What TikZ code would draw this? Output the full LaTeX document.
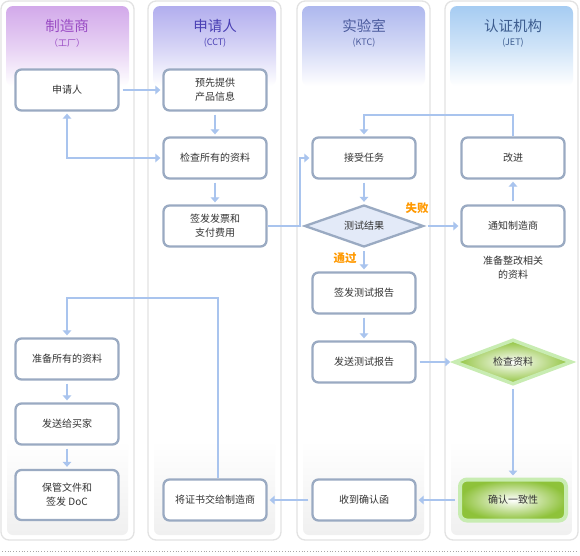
\documentclass[tikz,border=0pt]{standalone}
\usepackage{fontspec}
\setmainfont{Noto Sans CJK SC}
\usetikzlibrary{shapes.geometric,arrows.meta,calc}
\definecolor{boxb}{HTML}{9AAAC2}
\definecolor{arrc}{HTML}{A9C4EE}
\definecolor{txt}{HTML}{333333}
\definecolor{laneb}{HTML}{E2E2E2}
\definecolor{hA}{HTML}{D2A9EA}
\definecolor{hB}{HTML}{B2AEEE}
\definecolor{hC}{HTML}{AEB8EE}
\definecolor{hD}{HTML}{A6CCF2}
\definecolor{tA}{HTML}{9A4CC4}
\definecolor{tB}{HTML}{4A40B4}
\definecolor{tC}{HTML}{4A5A9C}
\definecolor{tD}{HTML}{3C5C8E}
\definecolor{orng}{HTML}{FF9900}
\definecolor{dfill}{HTML}{E3EAF8}
\definecolor{gbord}{HTML}{C8ECB2}
\definecolor{gdeep}{HTML}{8EC23A}
\tikzset{
  lane/.style={draw=laneb, line width=1.3pt, rounded corners=8pt, fill=white},
  hdr/.style={rounded corners=7pt},
  box/.style={draw=boxb, line width=2.3pt, rounded corners=6pt, fill=white,
    minimum width=103pt, minimum height=41pt, align=center, inner sep=1pt,
    font=\fontsize{10}{14}\selectfont, text=txt},
  dia/.style={diamond, draw=boxb, line width=2.3pt, fill=dfill, aspect=2.7,
    minimum width=119pt, minimum height=42pt, inner sep=0pt,
    font=\fontsize{10}{14}\selectfont, text=txt},
  gdia/.style={diamond, draw=gbord, line width=3.5pt, shading=radial,
    inner color=white, outer color=gdeep, aspect=2.6,
    minimum width=118pt, minimum height=45pt, inner sep=0pt,
    font=\fontsize{10}{14}\selectfont, text=txt},
  gbox/.style={draw=gbord, line width=4pt, rounded corners=7pt, shading=radial,
    inner color=white, outer color=gdeep, minimum width=106pt, minimum height=41pt,
    font=\fontsize{10}{14}\selectfont, text=txt},
  arr/.style={draw=arrc, line width=2.6pt, -{Triangle[length=5pt,width=8.5pt]},
    shorten <=3pt, shorten >=2pt},
  darr/.style={draw=arrc, line width=2.6pt, {Triangle[length=5pt,width=8.5pt]}-{Triangle[length=5pt,width=8.5pt]},
    shorten <=2pt, shorten >=2pt},
  ttl/.style={font=\fontsize{14.5}{16}\selectfont},
  sub/.style={font=\fontsize{9}{10}\selectfont},
  lbl/.style={text=orng, font=\fontsize{11.5}{13}\selectfont\bfseries},
  note/.style={align=center, text=txt, font=\fontsize{10}{14}\selectfont},
}
\begin{document}
\begin{tikzpicture}[x=1pt,y=-1pt]
\useasboundingbox (0,0) rectangle (580,555);
% lanes
\foreach \xa/\hc in {1/hA,148/hB,297/hC,445/hD}{
  \path[lane] (\xa,1) rectangle ++(133,539);
  \shade[hdr, top color=\hc, bottom color=white, middle color=\hc!55] (\xa+5,6) rectangle ++(123,80);
  \shade[rounded corners=6pt, top color=white, bottom color=black!6] (\xa+6,440) rectangle ++(121,95);
}
% headers
\node[ttl, text=tA] (h1) at (67,26) {制造商};
\node[sub, text=tA] (s1) at (67,43) {（工厂）};
\node[ttl, text=tB] (h2) at (215,26) {申请人};
\node[sub, text=tB] (s2) at (215,43) {(CCT)};
\node[ttl, text=tC] (h3) at (364,26) {实验室};
\node[sub, text=tC] (s3) at (364,43) {(KTC)};
\node[ttl, text=tD] (h4) at (513,26) {认证机构};
\node[sub, text=tD] (s4) at (513,43) {(JET)};
% boxes
\node[box] (app) at (67,90) {申请人};
\node[box] (pre) at (215,90) {预先提供\\产品信息};
\node[box] (chk) at (215,158) {检查所有的资料};
\node[box] (inv) at (215,226) {签发发票和\\支付费用};
\node[box] (task) at (364,158) {接受任务};
\node[dia] (res) at (364,226) {测试结果};
\node[box] (rep) at (364,293) {签发测试报告};
\node[box] (send) at (364,362) {发送测试报告};
\node[box] (imp) at (513,158) {改进};
\node[box] (noti) at (513,226) {通知制造商};
\node[note] (nt) at (513,268) {准备整改相关\\的资料};
\node[gdia] (cdoc) at (513,362) {检查资料};
\node[gbox] (conf) at (513,500) {确认一致性};
\node[box] (recv) at (364,500) {收到确认函};
\node[box] (cert) at (215,500) {将证书交给制造商};
\node[box] (prep) at (67,359) {准备所有的资料};
\node[box] (buy) at (67,424) {发送给买家};
\node[box, minimum height=50pt] (keep) at (67,495) {保管文件和\\签发 DoC};
% labels
\node[lbl] (fail) at (417,208) {失败};
\node[lbl] (pass) at (345,258) {通过};
% junctions
\coordinate (j1) at (300,0);
\coordinate (j2) at (0,115);
\coordinate (j3) at (0,298);
% connectors
\draw[arr] (app) -- (pre);
\draw[arr] (pre) -- (chk);
\draw[arr] (chk) -- (inv);
\draw[darr] (app.south) |- (chk.west);
\draw[arr, shorten <=0pt] (inv.east) -- (inv.east -| j1) |- (task.west);
\draw[arr] (task) -- (res);
\draw[arr] (res.east) -- (noti.west);
\draw[arr] (res.south) -- (rep.north);
\draw[arr] (noti) -- (imp);
\draw[arr, shorten <=0pt] (imp.north) -- (imp.north |- j2) -| (task.north);
\draw[arr] (rep) -- (send);
\draw[arr] (send.east) -- (cdoc.west);
\draw[arr] (cdoc.south) -- (conf.north);
\draw[arr] (conf.west) -- (recv.east);
\draw[arr] (recv.west) -- (cert.east);
\draw[arr, shorten <=0pt] ($(cert.north)+(3,0)$) -- ($(cert.north |- j3)+(3,0)$) -| (prep.north);
\draw[arr] (prep) -- (buy);
\draw[arr] (buy) -- (keep);
% bottom dotted rule
\draw[black!35, line width=0.8pt, dotted] (2,551) -- (578,551);
\end{tikzpicture}
\end{document}
